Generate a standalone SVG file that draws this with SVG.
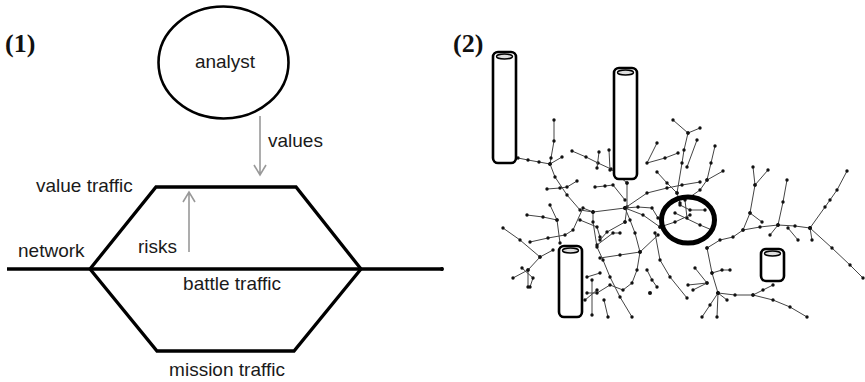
<svg xmlns="http://www.w3.org/2000/svg" width="865" height="382" viewBox="0 0 865 382">
<defs>
<marker id="dot" markerUnits="userSpaceOnUse" markerWidth="5" markerHeight="5" refX="2.5" refY="2.5"><circle cx="2.5" cy="2.5" r="1.7" fill="#111"/></marker>
<style>
.lbl{font-family:"Liberation Sans",Arial,sans-serif;font-size:19px;fill:#1a1a1a}
.num{font-family:"Liberation Serif","Times New Roman",serif;font-size:26px;font-weight:bold;fill:#111}
.thick{fill:none;stroke:#000;stroke-width:3.3;stroke-linejoin:miter}
.arr{fill:none;stroke:#999;stroke-width:1.6}
.br{fill:none;stroke:#444;stroke-width:1;marker-start:url(#dot);marker-mid:url(#dot);marker-end:url(#dot)}
.cyl{fill:#fff;stroke:#000;stroke-width:2.6}
.cyltop{fill:#ddd;stroke:#000;stroke-width:1.4}
</style>
</defs>
<rect width="865" height="382" fill="#fff"/>
<text class="num" x="5" y="52">(1)</text>
<text class="num" x="453" y="52">(2)</text>

<g id="analyst">
<ellipse cx="223.5" cy="62.5" rx="65" ry="56" fill="#fff" stroke="#000" stroke-width="2.6"/>
<text class="lbl" x="225" y="68" text-anchor="middle">analyst</text>
</g>

<g id="traffic">
<path class="thick" d="M7,269 L443,269"/>
<path class="thick" d="M90,269 L156,187 L296,187 L361,269"/>
<path class="thick" d="M90,269 L157,351 L294,351 L361,269"/>
<text class="lbl" x="36" y="192">value traffic</text>
<text class="lbl" x="18" y="257">network</text>
<text class="lbl" x="232" y="290" text-anchor="middle">battle traffic</text>
<text class="lbl" x="227" y="376" text-anchor="middle">mission traffic</text>
<text class="lbl" x="268" y="147">values</text>
<text class="lbl" x="138" y="253">risks</text>
</g>

<g id="connectors">
<path class="arr" d="M260,116 L260,175 M254,165 L260,175 L266,165"/>
<path class="arr" d="M189,252 L189,192 M183,202 L189,192 L195,202"/>
</g>

<g id="network">
<path class="br" d="M518,158 L528,160 L539,162 L550,164"/>
<path class="br" d="M554,120 L554,141 L551,158 L550,164 L562,157"/>
<path class="br" d="M550,164 L555,177 L567,195 L580,210 L593,212 L625,208"/>
<path class="br" d="M572,151 L586,157 L598,163 L611,169 L627,183"/>
<path class="br" d="M599,152 L597,168"/>
<path class="br" d="M609,150 L610,170"/>
<path class="br" d="M547,189 L560,188 L567,187 L577,181"/>
<path class="br" d="M595,187 L605,186 L613,185 L625,200"/>
<path class="br" d="M627,183 L627,207 L625,222"/>
<path class="br" d="M625,208 L638,207 L652,208 L658,218"/>
<path class="br" d="M625,208 L643,215 L660,227"/>
<path class="br" d="M625,208 L630,220 L635,233 L640,252"/>
<path class="br" d="M625,222 L607,232 L600,240"/>
<path class="br" d="M580,220 L597,227 L600,237"/>
<path class="br" d="M673,120 L688,133 L700,128"/>
<path class="br" d="M688,133 L684,150 L682,163 L677,193"/>
<path class="br" d="M697,140 L687,167"/>
<path class="br" d="M657,143 L647,163 L665,158 L678,153"/>
<path class="br" d="M625,208 L647,193 L667,188 L682,185 L700,182"/>
<path class="br" d="M715,146 L711,163 L707,180 L723,171"/>
<path class="br" d="M707,180 L700,190 L690,197"/>
<path class="br" d="M657,172 L667,183 L677,193 L680,203"/>
<path class="br" d="M753,167 L755,185 L768,170"/>
<path class="br" d="M755,185 L750,213 L762,222"/>
<path class="br" d="M787,180 L783,202 L778,225"/>
<path class="br" d="M847,171 L837,190 L830,200 L825,207 L810,228"/>
<path class="br" d="M707,248 L720,240 L733,237 L743,230 L760,227 L778,225 L795,226 L810,228"/>
<path class="br" d="M810,228 L832,248 L850,265 L863,278"/>
<path class="br" d="M778,225 L770,235"/>
<path class="br" d="M788,228 L798,240"/>
<path class="br" d="M810,228 L812,240"/>
<path class="br" d="M750,213 L743,230"/>
<path class="br" d="M680,205 L690,210 L705,210"/>
<path class="br" d="M675,213 L700,225 L712,230"/>
<path class="br" d="M685,200 L687,218"/>
<path class="br" d="M660,227 L675,222 L690,215"/>
<path class="br" d="M707,248 L712,273 L718,293 L717,317"/>
<path class="br" d="M718,293 L735,295 L753,295 L773,300 L790,307 L807,317"/>
<path class="br" d="M753,295 L763,290 L773,285"/>
<path class="br" d="M695,268 L707,283 L688,285"/>
<path class="br" d="M712,273 L722,270 L730,270"/>
<path class="br" d="M718,293 L727,300"/>
<path class="br" d="M718,293 L710,305 L702,317"/>
<path class="br" d="M707,283 L693,290"/>
<path class="br" d="M655,233 L660,260 L670,277 L687,298"/>
<path class="br" d="M600,258 L620,255 L640,252 L658,235"/>
<path class="br" d="M640,252 L637,270 L632,283 L623,290 L610,285 L597,293 L587,293"/>
<path class="br" d="M647,270 L652,280 L657,287"/>
<path class="br" d="M593,212 L593,222 L597,247 L603,260 L610,277 L620,297 L632,317"/>
<path class="br" d="M593,212 L583,208 L573,230 L565,235 L548,238 L530,242"/>
<path class="br" d="M557,220 L543,217 L527,215"/>
<path class="br" d="M550,205 L557,220 L560,243"/>
<path class="br" d="M503,228 L520,240 L540,257 L528,270 L513,278"/>
<path class="br" d="M528,270 L528,287"/>
<path class="br" d="M540,257 L553,250"/>
<path class="br" d="M522,268 L533,278 L530,287"/>
<path class="br" d="M587,277 L600,273"/>
<path class="br" d="M592,315 L592,280"/>
<path class="br" d="M597,245 L613,233 L620,233"/>
<path class="br" d="M585,300 L597,290"/>
<path class="br" d="M608,317 L604,300"/>
<circle cx="442" cy="269" r="2" fill="#000"/>
<circle cx="650" cy="293" r="2" fill="#111"/>
</g>

<g id="ring">
<ellipse cx="688" cy="220" rx="26.5" ry="23" fill="none" stroke="#000" stroke-width="5"/>
</g>

<g id="cyl1">
<rect class="cyl" x="493" y="52" width="23" height="111" rx="5"/>
<ellipse class="cyltop" cx="504.5" cy="56.5" rx="8" ry="2.5"/>
</g>
<g id="cyl2">
<rect class="cyl" x="614" y="68" width="23" height="111" rx="5"/>
<ellipse class="cyltop" cx="625.5" cy="72.5" rx="8" ry="2.5"/>
</g>
<g id="cyl3">
<rect class="cyl" x="559" y="246" width="23" height="71" rx="5"/>
<ellipse class="cyltop" cx="570.5" cy="250.5" rx="8" ry="2.5"/>
</g>
<g id="cyl4">
<rect class="cyl" x="761" y="249" width="23" height="32" rx="5"/>
<ellipse class="cyltop" cx="772.5" cy="253.5" rx="8" ry="2.5"/>
</g>
</svg>
